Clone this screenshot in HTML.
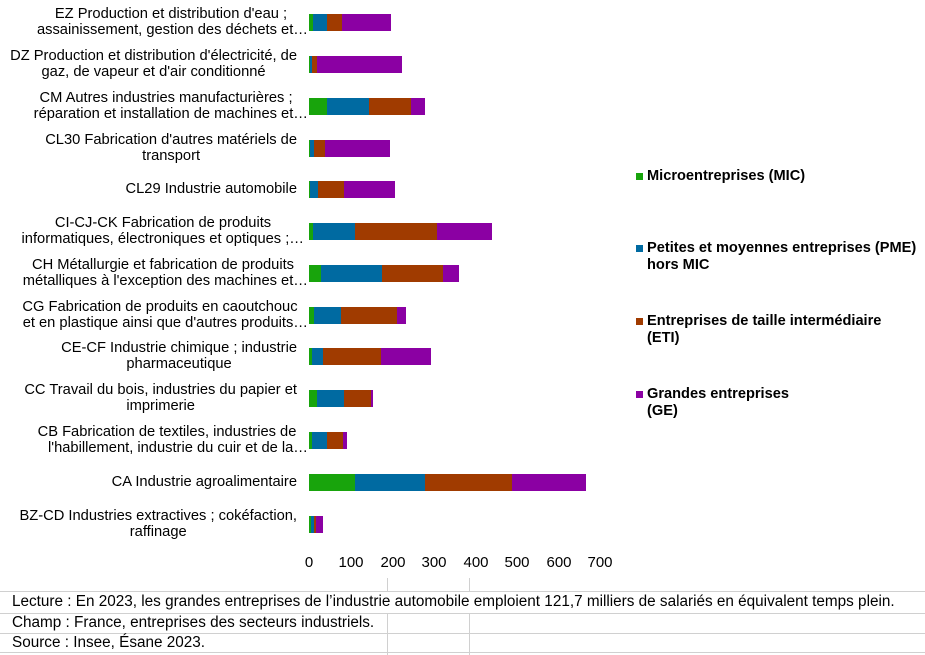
<!DOCTYPE html>
<html><head><meta charset="utf-8"><style>
body{margin:0;width:925px;height:655px;background:#fff;overflow:hidden;position:relative;font-family:"Liberation Sans",Arial,sans-serif;color:#000}
.w{position:absolute;left:0;width:297px;text-align:right;font-size:14.7px;line-height:16px;white-space:nowrap}
.w>span{display:inline-block;text-align:center}
.c1{position:absolute;width:330px;text-align:center;font-size:14.7px;line-height:16px;white-space:nowrap}
.c2{position:absolute;left:0;width:308px;text-align:right;font-size:14.7px;line-height:16px;white-space:nowrap}
.b{position:absolute;height:17px}
.g{background:#18a40c}.p{background:#006aa1}.e{background:#a03b00}.m{background:#8b00a3}
.t{position:absolute;top:554px;font-size:15px;width:40px;text-align:center}
.lg{position:absolute;left:647px;font-size:14.6px;font-weight:bold;line-height:17px;white-space:nowrap}
.sq{position:absolute;left:636px;width:7px;height:7px}
.h{position:absolute;left:0;width:925px;height:1px;background:#d0d0d0}
.v{position:absolute;width:1px;background:#d0d0d0}
.f{position:absolute;left:12px;font-size:15.3px;white-space:nowrap}
</style></head><body>
<div class="c1" style="top:6px;left:6px">EZ Production et distribution d'eau ;</div>
<div class="c2" style="top:22px">assainissement, gestion des déchets et…</div>
<div class="w" style="top:48px"><span>DZ Production et distribution d'électricité, de<br>gaz, de vapeur et d'air conditionné</span></div>
<div class="c1" style="top:90px;left:1px">CM Autres industries manufacturières ;</div>
<div class="c2" style="top:106px">réparation et installation de machines et…</div>
<div class="w" style="top:132px"><span>CL30 Fabrication d'autres matériels de<br>transport</span></div>
<div class="w" style="top:181px"><span>CL29 Industrie automobile</span></div>
<div class="c1" style="top:215px;left:-2px">CI-CJ-CK Fabrication de produits</div>
<div class="c2" style="top:231px;width:304px">informatiques, électroniques et optiques ;…</div>
<div class="c1" style="top:257px;left:-2px">CH Métallurgie et fabrication de produits</div>
<div class="c2" style="top:273px">métalliques à l'exception des machines et…</div>
<div class="c1" style="top:299px;left:-5px">CG Fabrication de produits en caoutchouc</div>
<div class="c2" style="top:315px">et en plastique ainsi que d'autres produits…</div>
<div class="w" style="top:340px"><span>CE-CF Industrie chimique ; industrie<br>pharmaceutique</span></div>
<div class="w" style="top:382px"><span>CC Travail du bois, industries du papier et<br>imprimerie</span></div>
<div class="c1" style="top:424px;left:2px">CB Fabrication de textiles, industries de</div>
<div class="c2" style="top:440px">l'habillement, industrie du cuir et de la…</div>
<div class="w" style="top:474px"><span>CA Industrie agroalimentaire</span></div>
<div class="w" style="top:508px"><span>BZ-CD Industries extractives ; cokéfaction,<br>raffinage</span></div>

<div class="b g" style="top:14px;left:309px;width:4px"></div><div class="b p" style="top:14px;left:313px;width:14px"></div><div class="b e" style="top:14px;left:327px;width:15px"></div><div class="b m" style="top:14px;left:342px;width:49px"></div>
<div class="b g" style="top:56px;left:309px;width:1px"></div><div class="b p" style="top:56px;left:310px;width:2px"></div><div class="b e" style="top:56px;left:312px;width:5px"></div><div class="b m" style="top:56px;left:317px;width:85px"></div>
<div class="b g" style="top:98px;left:309px;width:18px"></div><div class="b p" style="top:98px;left:327px;width:42px"></div><div class="b e" style="top:98px;left:369px;width:42px"></div><div class="b m" style="top:98px;left:411px;width:14px"></div>
<div class="b g" style="top:140px;left:309px;width:1px"></div><div class="b p" style="top:140px;left:310px;width:4px"></div><div class="b e" style="top:140px;left:314px;width:11px"></div><div class="b m" style="top:140px;left:325px;width:65px"></div>
<div class="b g" style="top:181px;left:309px;width:1px"></div><div class="b p" style="top:181px;left:310px;width:8px"></div><div class="b e" style="top:181px;left:318px;width:26px"></div><div class="b m" style="top:181px;left:344px;width:51px"></div>
<div class="b g" style="top:223px;left:309px;width:4px"></div><div class="b p" style="top:223px;left:313px;width:42px"></div><div class="b e" style="top:223px;left:355px;width:82px"></div><div class="b m" style="top:223px;left:437px;width:55px"></div>
<div class="b g" style="top:265px;left:309px;width:12px"></div><div class="b p" style="top:265px;left:321px;width:61px"></div><div class="b e" style="top:265px;left:382px;width:61px"></div><div class="b m" style="top:265px;left:443px;width:16px"></div>
<div class="b g" style="top:307px;left:309px;width:5px"></div><div class="b p" style="top:307px;left:314px;width:27px"></div><div class="b e" style="top:307px;left:341px;width:56px"></div><div class="b m" style="top:307px;left:397px;width:9px"></div>
<div class="b g" style="top:348px;left:309px;width:3px"></div><div class="b p" style="top:348px;left:312px;width:11px"></div><div class="b e" style="top:348px;left:323px;width:58px"></div><div class="b m" style="top:348px;left:381px;width:50px"></div>
<div class="b g" style="top:390px;left:309px;width:8px"></div><div class="b p" style="top:390px;left:317px;width:27px"></div><div class="b e" style="top:390px;left:344px;width:27px"></div><div class="b m" style="top:390px;left:371px;width:2px"></div>
<div class="b g" style="top:432px;left:309px;width:3px"></div><div class="b p" style="top:432px;left:312px;width:15px"></div><div class="b e" style="top:432px;left:327px;width:16px"></div><div class="b m" style="top:432px;left:343px;width:4px"></div>
<div class="b g" style="top:474px;left:309px;width:46px"></div><div class="b p" style="top:474px;left:355px;width:70px"></div><div class="b e" style="top:474px;left:425px;width:87px"></div><div class="b m" style="top:474px;left:512px;width:74px"></div>
<div class="b g" style="top:516px;left:309px;width:2px"></div><div class="b p" style="top:516px;left:311px;width:3px"></div><div class="b e" style="top:516px;left:314px;width:2px"></div><div class="b m" style="top:516px;left:316px;width:7px"></div>

<div class="t" style="left:289px">0</div>
<div class="t" style="left:331px">100</div>
<div class="t" style="left:373px">200</div>
<div class="t" style="left:414px">300</div>
<div class="t" style="left:456px">400</div>
<div class="t" style="left:497px">500</div>
<div class="t" style="left:539px">600</div>
<div class="t" style="left:580px">700</div>

<div class="sq g" style="top:173px"></div><div class="lg" style="top:168px">Microentreprises (MIC)</div>
<div class="sq p" style="top:245px"></div><div class="lg" style="top:240px">Petites et moyennes entreprises (PME)<br>hors MIC</div>
<div class="sq e" style="top:318px"></div><div class="lg" style="top:313px">Entreprises de taille intermédiaire<br>(ETI)</div>
<div class="sq m" style="top:391px"></div><div class="lg" style="top:386px">Grandes entreprises<br>(GE)</div>

<div class="h" style="top:591px"></div>
<div class="h" style="top:613px"></div>
<div class="h" style="top:633px"></div>
<div class="h" style="top:652px"></div>
<div class="v" style="left:387px;top:578px;height:14px"></div>
<div class="v" style="left:469px;top:578px;height:14px"></div>
<div class="v" style="left:387px;top:613px;height:42px"></div>
<div class="v" style="left:469px;top:613px;height:42px"></div>
<div class="f" style="top:593px">Lecture : En 2023, les grandes entreprises de l’industrie automobile emploient 121,7 milliers de salariés en équivalent temps plein.</div>
<div class="f" style="top:614px;background:#fff">Champ : France, entreprises des secteurs industriels.</div>
<div class="f" style="top:634px;background:#fff">Source : Insee, Ésane 2023.</div>
</body></html>
